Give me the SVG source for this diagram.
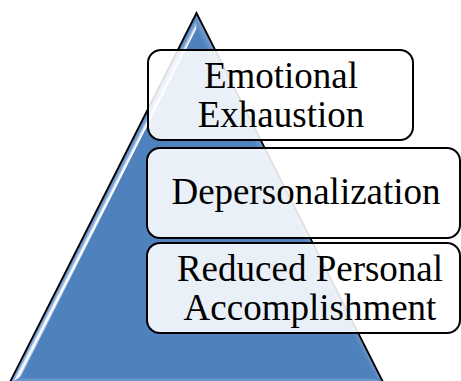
<svg xmlns="http://www.w3.org/2000/svg" width="461" height="381" viewBox="0 0 461 381">
  <defs>
    <linearGradient id="bevelLeft" gradientUnits="userSpaceOnUse" x1="102.75" y1="198.5" x2="109" y2="201.7">
      <stop offset="0" stop-color="#4F81BD"/>
      <stop offset="0.45" stop-color="#86ABDB"/>
      <stop offset="0.75" stop-color="#FFFFFF"/>
      <stop offset="0.9" stop-color="#FFFFFF"/>
      <stop offset="1" stop-color="#BCD2EE"/>
    </linearGradient>
    <linearGradient id="bevelRight" gradientUnits="userSpaceOnUse" x1="290" y1="198.5" x2="283.8" y2="201.7">
      <stop offset="0" stop-color="#7399C9"/>
      <stop offset="1" stop-color="#4F81BD"/>
    </linearGradient>
    <linearGradient id="bevelBottom" x1="0" y1="0" x2="0" y2="1">
      <stop offset="0" stop-color="#4F81BD"/>
      <stop offset="1" stop-color="#8DB0DC"/>
    </linearGradient>
    <style>
      .box { fill: #FFFFFF; fill-opacity: 0.88; stroke: #000000; stroke-width: 2; }
      .label { font-family: "Liberation Serif", "Times New Roman", serif; font-size: 37px; fill: #000000; text-anchor: middle; }
    </style>
  </defs>

  <!-- pyramid with bevelled edges -->
  <g id="pyramid">
    <polygon points="196.5,13 9,384 384,384" fill="#4F81BD"/>
    <polygon points="196.5,13 9,384 20.5,377 196.5,28.5" fill="url(#bevelLeft)"/>
    <polygon points="196.5,13 384,384 372.5,377 196.5,28.5" fill="url(#bevelRight)"/>
    <polygon points="9,384 384,384 372.5,377 20.5,377" fill="url(#bevelBottom)"/>
    <polygon points="196.5,13 9,384 384,384" fill="none" stroke="#000000" stroke-width="1.8" stroke-linejoin="miter"/>
  </g>

  <g id="connectors"/>

  <g id="emotional-exhaustion">
    <rect class="box" x="148" y="50" width="265" height="90" rx="13"/>
    <text class="label" x="281" y="88">Emotional</text>
    <text class="label" x="281" y="127">Exhaustion</text>
  </g>

  <g id="depersonalization">
    <rect class="box" x="147" y="148" width="313" height="90" rx="13"/>
    <text class="label" x="306" y="204">Depersonalization</text>
  </g>

  <g id="reduced-personal-accomplishment">
    <rect class="box" x="147" y="243" width="313" height="90" rx="13"/>
    <text class="label" x="310" y="281">Reduced Personal</text>
    <text class="label" x="310" y="320">Accomplishment</text>
  </g>
</svg>
